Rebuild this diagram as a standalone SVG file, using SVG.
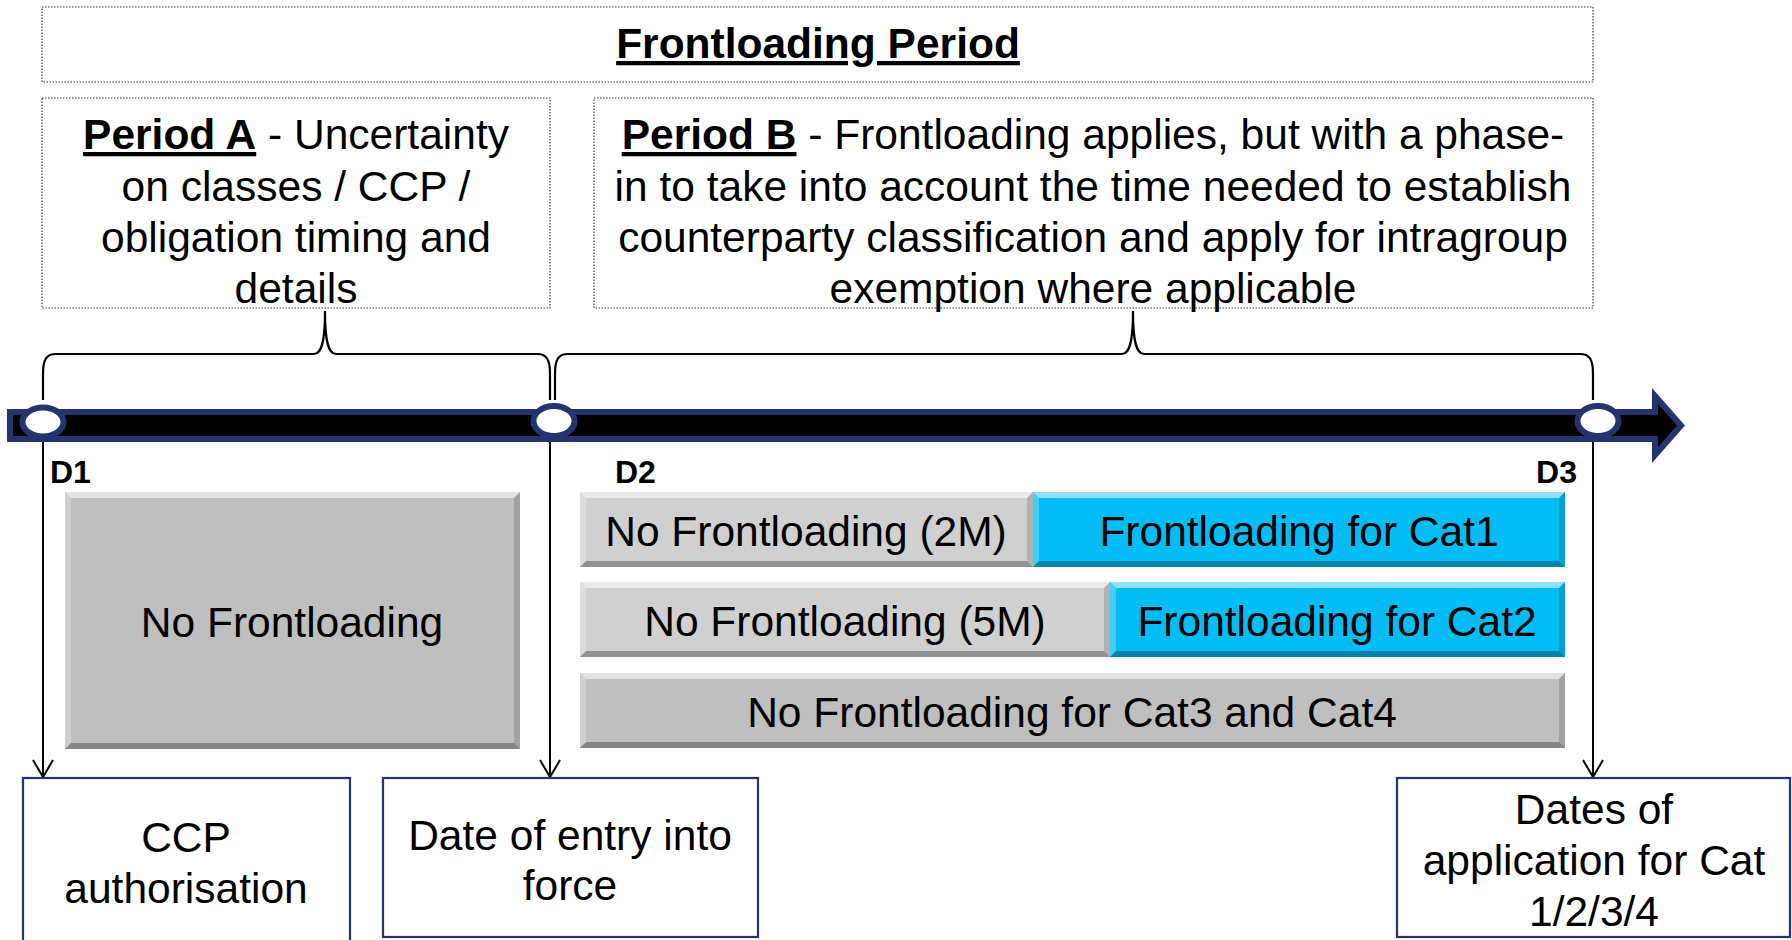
<svg xmlns="http://www.w3.org/2000/svg" width="1792" height="940" viewBox="0 0 1792 940">
  <style>
    text { font-family: "Liberation Sans", Arial, sans-serif; fill: #000; }
    .t { font-size: 42.5px; text-anchor: middle; }
    .b { font-weight: bold; }
    .u { font-weight: bold; text-decoration: underline; }
    .d { font-size: 32px; font-weight: bold; }
    .dot { fill: #fff; stroke: #3a3a3a; stroke-width: 1.2; stroke-dasharray: 1.5 1.5; }
    .navybox { fill: #fff; stroke: #24346f; stroke-width: 2.2; }
    .brace { fill: none; stroke: #000; stroke-width: 2.2; }
    .conn { fill: none; stroke: #000; stroke-width: 2; }
    .hl { fill: #fff; opacity: 0.55; }
    .hl2 { fill: #fff; opacity: 0.25; }
    .sh { fill: #000; opacity: 0.15; }
    .sh2 { fill: #000; opacity: 0.3; }
    .gray1 { fill: #bfbfbf; }
    .gray2 { fill: #d0d0d0; }
    .cyan { fill: #05bdf5; }
    .mark { fill: #fff; stroke: #24346f; stroke-width: 6; }
  </style>
  <defs>
    <marker id="vhead" markerUnits="userSpaceOnUse" viewBox="-20 -12 22 24" markerWidth="22" markerHeight="24" refX="0" refY="0" orient="auto" overflow="visible">
      <path d="M-17,-10 L0,0 L-17,10" fill="none" stroke="#000" stroke-width="2"/>
    </marker>
  </defs>

  <g id="frontloading-period">
    <rect class="dot" x="42" y="7" width="1551" height="75"/>
    <text class="t" x="818" y="58"><tspan class="u">Frontloading Period</tspan></text>
  </g>

  <g id="period-a">
    <rect class="dot" x="42" y="98" width="508" height="210"/>
    <text class="t" x="296" y="149"><tspan class="u">Period A</tspan> - Uncertainty</text>
    <text class="t" x="296" y="201">on classes / CCP /</text>
    <text class="t" x="296" y="252">obligation timing and</text>
    <text class="t" x="296" y="303">details</text>
  </g>

  <g id="period-b">
    <rect class="dot" x="594" y="98" width="999" height="210"/>
    <text class="t" x="1093" y="149"><tspan class="u">Period B</tspan> - Frontloading applies, but with a phase-</text>
    <text class="t" x="1093" y="201">in to take into account the time needed to establish</text>
    <text class="t" x="1093" y="252">counterparty classification and apply for intragroup</text>
    <text class="t" x="1093" y="303">exemption where applicable</text>
  </g>

  <g id="connectors">
    <path class="brace" d="M43,400 V374 C43,360 46,354 56,354 H314 C322,354 325,340 325,311 C325,340 328,354 336,354 H537 C547,354 550,360 550,374 V400"/>
    <path class="brace" d="M555,400 V374 C555,360 558,354 568,354 H1122 C1130,354 1133,340 1133,311 C1133,340 1136,354 1144,354 H1580 C1590,354 1593,360 1593,374 V400"/>
    <path class="conn" d="M43,436 V777" marker-end="url(#vhead)"/>
    <path class="conn" d="M550,436 V777" marker-end="url(#vhead)"/>
    <path class="conn" d="M1593,436 V777" marker-end="url(#vhead)"/>
  </g>

  <g id="timeline">
    <polygon points="10,412 1655,412 1655,396 1681,425.5 1655,455 1655,439 10,439" fill="#000" stroke="#24346f" stroke-width="6" stroke-linejoin="miter"/>
    <ellipse class="mark" cx="43" cy="422" rx="20.5" ry="14.5"/>
    <ellipse class="mark" cx="554" cy="421" rx="20.5" ry="15"/>
    <ellipse class="mark" cx="1598" cy="421" rx="20.5" ry="15"/>
  </g>

  <g id="d1"><text class="d" x="50" y="483">D1</text></g>
  <g id="d2"><text class="d" x="615" y="483">D2</text></g>
  <g id="d3"><text class="d" x="1577" y="483" text-anchor="end">D3</text></g>

  <g id="no-frontloading">
    <rect class="gray1" x="65" y="492" width="455" height="257"/>
    <polygon class="hl" points="65,492 520,492 514,498 71,498"/>
    <polygon class="hl2" points="65,492 71,498 71,743 65,749"/>
    <polygon class="sh" points="520,492 520,749 514,743 514,498"/>
    <polygon class="sh2" points="65,749 71,743 514,743 520,749"/>
    <text class="t" x="292" y="637">No Frontloading</text>
  </g>

  <g id="no-frontloading-2m">
    <rect class="gray2" x="580" y="492" width="453" height="75"/>
    <polygon class="hl" points="580,492 1033,492 1027,498 586,498"/>
    <polygon class="hl2" points="580,492 586,498 586,561 580,567"/>
    <polygon class="sh" points="1033,492 1033,567 1027,561 1027,498"/>
    <polygon class="sh2" points="580,567 586,561 1027,561 1033,567"/>
    <text class="t" x="806" y="546">No Frontloading (2M)</text>
  </g>

  <g id="frontloading-cat1">
    <rect class="cyan" x="1033" y="492" width="532" height="75"/>
    <polygon class="hl" points="1033,492 1565,492 1559,498 1039,498"/>
    <polygon class="hl2" points="1033,492 1039,498 1039,561 1033,567"/>
    <polygon class="sh" points="1565,492 1565,567 1559,561 1559,498"/>
    <polygon class="sh2" points="1033,567 1039,561 1559,561 1565,567"/>
    <text class="t" x="1299" y="546">Frontloading for Cat1</text>
  </g>

  <g id="no-frontloading-5m">
    <rect class="gray2" x="580" y="582" width="530" height="75"/>
    <polygon class="hl" points="580,582 1110,582 1104,588 586,588"/>
    <polygon class="hl2" points="580,582 586,588 586,651 580,657"/>
    <polygon class="sh" points="1110,582 1110,657 1104,651 1104,588"/>
    <polygon class="sh2" points="580,657 586,651 1104,651 1110,657"/>
    <text class="t" x="845" y="636">No Frontloading (5M)</text>
  </g>

  <g id="frontloading-cat2">
    <rect class="cyan" x="1110" y="582" width="455" height="75"/>
    <polygon class="hl" points="1110,582 1565,582 1559,588 1116,588"/>
    <polygon class="hl2" points="1110,582 1116,588 1116,651 1110,657"/>
    <polygon class="sh" points="1565,582 1565,657 1559,651 1559,588"/>
    <polygon class="sh2" points="1110,657 1116,651 1559,651 1565,657"/>
    <text class="t" x="1337" y="636">Frontloading for Cat2</text>
  </g>

  <g id="no-frontloading-cat34">
    <rect class="gray1" x="580" y="673" width="985" height="75"/>
    <polygon class="hl" points="580,673 1565,673 1559,679 586,679"/>
    <polygon class="hl2" points="580,673 586,679 586,742 580,748"/>
    <polygon class="sh" points="1565,673 1565,748 1559,742 1559,679"/>
    <polygon class="sh2" points="580,748 586,742 1559,742 1565,748"/>
    <text class="t" x="1072" y="727">No Frontloading for Cat3 and Cat4</text>
  </g>

  <g id="ccp-authorisation">
    <rect class="navybox" x="23" y="778" width="327" height="172"/>
    <text class="t" x="186" y="852">CCP</text>
    <text class="t" x="186" y="903">authorisation</text>
  </g>

  <g id="date-entry-into-force">
    <rect class="navybox" x="383" y="778" width="375" height="159"/>
    <text class="t" x="570" y="850">Date of entry into</text>
    <text class="t" x="570" y="900">force</text>
  </g>

  <g id="dates-of-application">
    <rect class="navybox" x="1397" y="778" width="393" height="159"/>
    <text class="t" x="1594" y="824">Dates of</text>
    <text class="t" x="1594" y="875">application for Cat</text>
    <text class="t" x="1594" y="926">1/2/3/4</text>
  </g>
</svg>
